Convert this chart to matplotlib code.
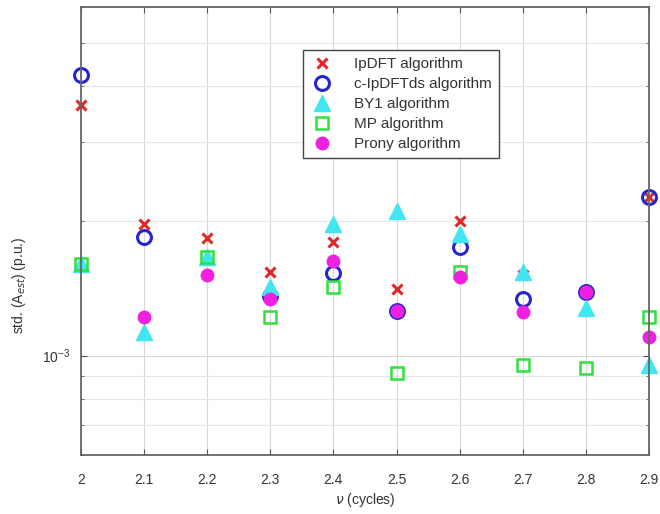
import numpy as np
import matplotlib
matplotlib.use("Agg")
import matplotlib.pyplot as plt
from matplotlib.ticker import NullFormatter, LogLocator, FixedLocator

plt.rcParams['font.family'] = ['Liberation Sans', 'DejaVu Sans']

cycles = [2.0, 2.1, 2.2, 2.3, 2.4, 2.5, 2.6, 2.7, 2.8, 2.9]
x_ticklabels = ['2', '2.1', '2.2', '2.3', '2.4', '2.5', '2.6', '2.7', '2.8', '2.9']

ipdft = [3.63e-3, 1.97e-3, 1.83e-3, 1.54e-3, 1.79e-3, 1.41e-3, 2.00e-3, 1.51e-3, 1.385e-3, 2.265e-3]
c_ipdftds = [4.24e-3, 1.84e-3, np.nan, 1.36e-3, 1.53e-3, 1.26e-3, 1.75e-3, 1.34e-3, 1.385e-3, 2.265e-3]
by1 = [1.60e-3, 1.13e-3, 1.66e-3, 1.42e-3, 1.97e-3, 2.10e-3, 1.87e-3, 1.54e-3, 1.28e-3, 0.955e-3]
mp = [1.60e-3, np.nan, 1.66e-3, 1.22e-3, 1.42e-3, 0.916e-3, 1.54e-3, 0.955e-3, 0.94e-3, 1.22e-3]
prony = [np.nan, 1.22e-3, 1.51e-3, 1.34e-3, 1.63e-3, 1.26e-3, 1.50e-3, 1.25e-3, 1.385e-3, 1.10e-3]

fig = plt.figure(figsize=(6.6, 5.14), dpi=100)
ax = fig.add_axes([0.1227, 0.115, 0.8606, 0.871])

ax.plot(cycles, ipdft, linestyle='none', marker='x', markersize=7, markeredgewidth=2.2,
        color='#e02828', label='IpDFT algorithm', clip_on=False)
ax.plot(cycles, c_ipdftds, linestyle='none', marker='o', markersize=10, markeredgewidth=2.2,
        markerfacecolor='none', markeredgecolor='#2626d0', label='c-IpDFTds algorithm', clip_on=False)
ax.plot(cycles, by1, linestyle='none', marker='^', markersize=11, markeredgewidth=1.0,
        markerfacecolor='#40e6f0', markeredgecolor='#40e6f0', label='BY1 algorithm', clip_on=False)
ax.plot(cycles, mp, linestyle='none', marker='s', markersize=8, markeredgewidth=1.8,
        markerfacecolor='none', markeredgecolor='#30e040', label='MP algorithm', clip_on=False)
ax.plot(cycles, prony, linestyle='none', marker='o', markersize=9, markeredgewidth=1.0,
        markerfacecolor='#f020e0', markeredgecolor='#f020e0', label='Prony algorithm', clip_on=False)

ax.set_yscale('log')
ax.set_xlim(2.0, 2.9)
ax.set_ylim(6e-4, 6e-3)
ax.xaxis.set_major_locator(FixedLocator(cycles))
ax.set_xticklabels(x_ticklabels)
ax.yaxis.set_major_locator(LogLocator(base=10))
ax.yaxis.set_minor_locator(LogLocator(base=10, subs=np.arange(2, 10)))
ax.yaxis.set_minor_formatter(NullFormatter())

ax.grid(True, which='major', color='#d8d8d8', linewidth=0.8)
ax.grid(True, which='minor', axis='y', color='#e6e6e6', linewidth=0.8)
ax.set_axisbelow(True)

for sp in ax.spines.values():
    sp.set_color('#666666')
    sp.set_linewidth(1.3)
ax.tick_params(which='both', direction='in', colors='#555555', labelcolor='#333333',
               labelsize=10, top=True, right=True)
ax.tick_params(which='major', length=4)
ax.tick_params(axis='x', which='major', pad=13)
ax.tick_params(axis='y', which='major', pad=8)
ax.tick_params(which='minor', length=2.5)

ax.set_xlabel(r'$\nu$ (cycles)', fontsize=10, color='#333333', labelpad=3)
ax.set_ylabel(r'std. (A$_{est}$) (p.u.)', fontsize=10, color='#333333')
ax.yaxis.set_label_coords(-0.093, 0.38)

leg = ax.legend(loc='upper left', bbox_to_anchor=(0.391, 0.904), fontsize=11,
                frameon=True, fancybox=False, edgecolor='#444444', framealpha=1,
                handletextpad=1.3, borderpad=0.45, labelspacing=0.4, handlelength=1.6,
                borderaxespad=0)
leg.get_frame().set_linewidth(1.0)
for t in leg.get_texts():
    t.set_color('#333333')

fig.savefig('out.png', dpi=100)
